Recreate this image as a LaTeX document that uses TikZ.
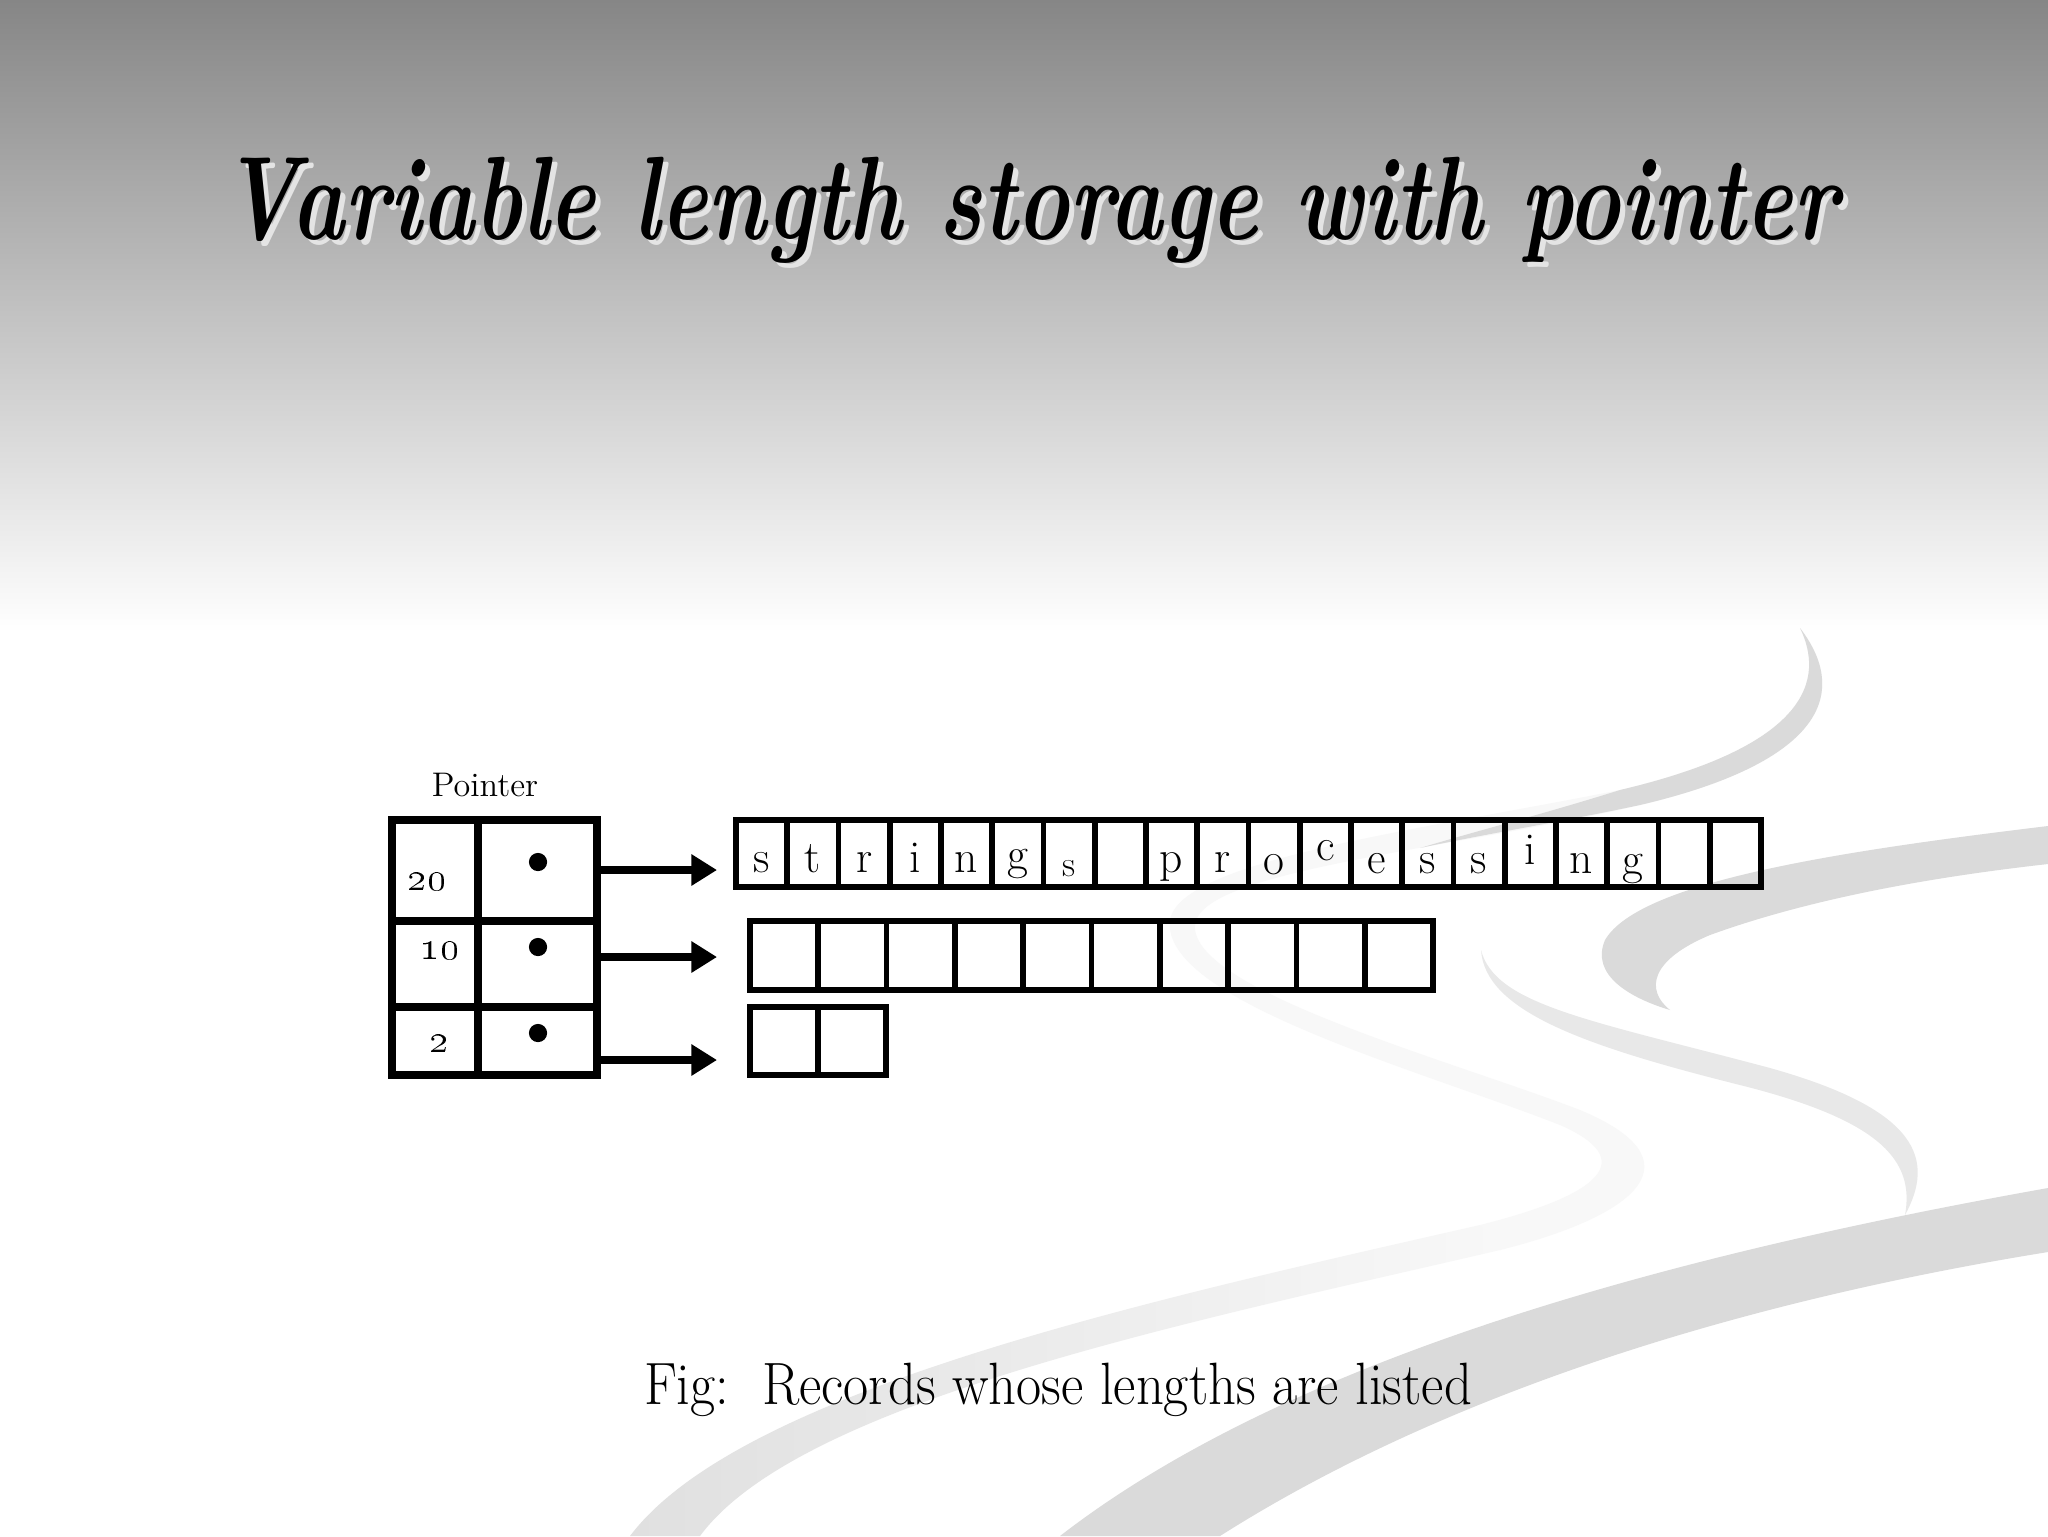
\documentclass[tikz,border=0pt]{standalone}
\usepackage{graphicx}
\usetikzlibrary{positioning,calc,arrows.meta}
\definecolor{slidegray}{RGB}{134,134,134}
\definecolor{swdark}{RGB}{218,218,218}
\definecolor{swmid}{RGB}{232,232,232}
\definecolor{swlow}{RGB}{224,224,224}
\definecolor{swfaint}{RGB}{248,248,248}
\def\pxu{0.3516pt}

\begin{document}
\begin{tikzpicture}[
  x=\pxu, y=-\pxu,
  node distance=0pt,
  cell/.style={draw, line width=2pt, inner sep=0pt, outer sep=0pt, minimum width=51.25*\pxu, minimum height=67*\pxu},
  wcell/.style={cell, minimum width=68.3*\pxu, minimum height=69*\pxu},
  tcell/.style={draw, line width=2.8pt, inner sep=0pt, outer sep=0pt},
  letter/.style={inner sep=0pt, anchor=base, font=\fontsize{16}{18}\selectfont},
  num/.style={inner sep=0pt, anchor=base, font=\fontsize{13.5}{15}\selectfont},
  dot/.style={circle, fill, inner sep=0pt, minimum size=6.4pt},
  ptrarrow/.style={line width=3pt, -{Triangle[length=9pt,width=10.5pt]}}
]
\useasboundingbox (0,0) rectangle (2048,1536);
\fill[white] (0,0) rectangle (2048,1536);
\shade[top color=slidegray, bottom color=white] (0,0) rectangle (2048,632);

% background swooshes
\fill[swfaint] (1800,628) .. controls (1855,700) and (1810,765) .. (1640,805)
  .. controls (1450,850) and (1200,870) .. (1195,925)
  .. controls (1190,990) and (1450,1060) .. (1580,1110)
  .. controls (1700,1160) and (1640,1215) .. (1500,1250) -- (1480,1225)
  .. controls (1600,1195) and (1640,1160) .. (1560,1125)
  .. controls (1420,1070) and (1160,1000) .. (1170,920)
  .. controls (1180,860) and (1420,830) .. (1620,790)
  .. controls (1790,750) and (1830,690) .. (1800,628) -- cycle;
\shade[left color=swlow, right color=swfaint] (1500,1250)
  .. controls (1200,1320) and (800,1400) .. (700,1536) -- (630,1536)
  .. controls (740,1390) and (1150,1300) .. (1480,1225) -- cycle;
\fill[swdark] (1800,628) .. controls (1855,700) and (1810,765) .. (1640,805)
  .. controls (1560,822) and (1480,835) .. (1420,848)
  .. controls (1480,830) and (1540,815) .. (1620,790)
  .. controls (1790,750) and (1830,690) .. (1800,628) -- cycle;
\fill[swdark] (2048,826) .. controls (1850,850) and (1640,880) .. (1605,940)
  .. controls (1590,975) and (1630,998) .. (1670,1010)
  .. controls (1645,990) and (1650,960) .. (1710,935)
  .. controls (1820,895) and (1950,875) .. (2048,864) -- cycle;
\fill[swmid] (1481,950) .. controls (1485,1010) and (1580,1045) .. (1740,1085)
  .. controls (1880,1120) and (1915,1160) .. (1905,1215)
  .. controls (1935,1160) and (1920,1110) .. (1770,1068)
  .. controls (1590,1020) and (1495,1005) .. (1481,950) -- cycle;
\fill[swdark] (2048,1188) .. controls (1700,1250) and (1300,1350) .. (1060,1536)
  -- (1220,1536) .. controls (1450,1390) and (1750,1300) .. (2048,1252) -- cycle;

\node[anchor=base, text=white!78!slidegray] (titleshadow) at (1035,244)
  {\resizebox{568pt}{29pt}{\bfseries\itshape Variable length storage with pointer}};
\node[anchor=base] (title) at (1030,239)
  {\resizebox{568pt}{29pt}{\bfseries\itshape Variable length storage with pointer}};

% pointer table
\node[font=\fontsize{12}{14}\selectfont] (ptrlabel) at (485,785) {Pointer};
\node[tcell, minimum width=86*\pxu, minimum height=101*\pxu] (len1) at (435,870.5) {};
\node[tcell, right=of len1, minimum width=119*\pxu, minimum height=101*\pxu] (ptr1) {};
\node[tcell, below=of len1, minimum width=86*\pxu, minimum height=86*\pxu] (len2) {};
\node[tcell, right=of len2, minimum width=119*\pxu, minimum height=86*\pxu] (ptr2) {};
\node[tcell, below=of len2, minimum width=86*\pxu, minimum height=68*\pxu] (len3) {};
\node[tcell, right=of len3, minimum width=119*\pxu, minimum height=68*\pxu] (ptr3) {};
\node[num] (n20) at (427,890) {\oldstylenums{20}};
\node[num] (n10) at (440,959) {\oldstylenums{10}};
\node[num] (n2) at (439,1052) {\oldstylenums{2}};
\node[dot] (dot1) at (538,862) {};
\node[dot] (dot2) at (538,947) {};
\node[dot] (dot3) at (538,1033) {};

% records
\node[cell] (a1) at (761.6,853.5) {};
\foreach \i [remember=\i as \j (initially 1)] in {2,...,20}
  \node[cell, right=of a\j] (a\i) {};
\foreach \ch/\dy/\sc [count=\i] in {s/0/1, t/0/1, r/0/1, i/0/1, n/0/1, g/-3/1, s/4/0.8, {}/0/1, p/0/1, r/0/1,
    o/2/1, c/-12/1, e/1/1, s/1/1, s/1/1, i/-8/1, n/1/1, g/2/1, {}/0/1, {}/0/1}
  \path (a\i.center) ++(0,{18.5+\dy}) node[letter, scale=\sc] (l\i) {\ch};

\node[wcell] (b1) at (784.15,955.5) {};
\foreach \i [remember=\i as \j (initially 1)] in {2,...,10}
  \node[wcell, right=of b\j] (b\i) {};

\node[wcell, minimum width=68*\pxu, minimum height=68*\pxu] (c1) at (784,1041) {};
\node[wcell, minimum width=68*\pxu, minimum height=68*\pxu, right=of c1] (c2) {};

\coordinate (tip1) at (717,870);
\coordinate (tip2) at (717,957);
\coordinate (tip3) at (717,1060);
\draw[ptrarrow] (ptr1.east |- tip1) -- (tip1);
\draw[ptrarrow] (ptr2.east |- tip2) -- (tip2);
\draw[ptrarrow] (ptr3.east |- tip3) -- (tip3);

\node[anchor=base, font=\fontsize{21}{25}\selectfont] (caption) at (1058,1404)
  {\scalebox{0.915}[1]{Fig:\ \ Records whose lengths are listed}};
\end{tikzpicture}
\end{document}
